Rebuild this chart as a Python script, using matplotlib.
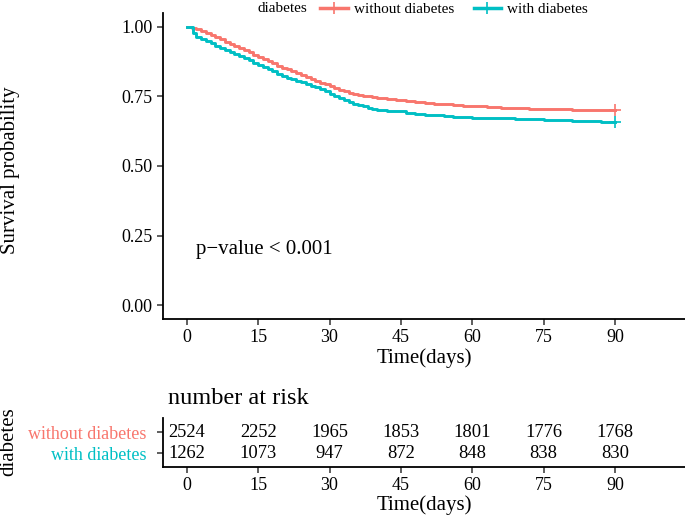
import matplotlib
matplotlib.use('Agg')
import matplotlib.pyplot as plt
from matplotlib.lines import Line2D

plt.rcParams['font.family'] = ['Liberation Serif', 'DejaVu Serif']

red = '#F8766D'
teal = '#00BFC4'

# survival curves (step, post)
t_without = [0, 1, 2, 3, 4, 5, 6, 7, 8, 9, 10, 11, 12, 13, 14, 15, 16, 17, 18, 19,
             20, 21, 22, 23, 24, 25, 26, 27, 28, 29, 30, 31, 32, 33, 34, 35, 36, 37,
             38, 39, 40, 42, 44, 46, 48, 50, 52, 54, 56, 58, 60, 63, 66, 69, 72, 75,
             78, 81, 84, 87, 90]
s_without = [1.000, 0.997, 0.992, 0.985, 0.978, 0.970, 0.963, 0.955, 0.947, 0.940,
             0.932, 0.925, 0.917, 0.909, 0.900, 0.893, 0.885, 0.877, 0.869, 0.861,
             0.854, 0.847, 0.840, 0.833, 0.826, 0.819, 0.813, 0.806, 0.800, 0.793,
             0.787, 0.780, 0.774, 0.768, 0.763, 0.759, 0.756, 0.753, 0.750, 0.748,
             0.746, 0.742, 0.737, 0.733, 0.730, 0.727, 0.724, 0.722, 0.719, 0.717,
             0.715, 0.712, 0.710, 0.708, 0.706, 0.705, 0.704, 0.703, 0.702, 0.701,
             0.700]

t_with = [0, 1.2, 2, 3, 4, 5, 6, 7, 8, 9, 10, 11, 12, 13, 14, 15, 16, 17, 18, 19,
          20, 21, 22, 23, 24, 25, 26, 27, 28, 29, 30, 31, 32, 33, 34, 35, 36, 37,
          38, 39, 40, 42, 44, 46, 48, 50, 52, 54, 56, 58, 60, 63, 66, 69, 72, 75,
          78, 81, 84, 87, 90]
s_with = [1.000, 0.977, 0.965, 0.958, 0.950, 0.942, 0.933, 0.925, 0.917, 0.909,
          0.901, 0.894, 0.887, 0.880, 0.872, 0.864, 0.856, 0.848, 0.840, 0.832,
          0.824, 0.817, 0.811, 0.806, 0.801, 0.795, 0.789, 0.783, 0.776, 0.768,
          0.760, 0.752, 0.744, 0.737, 0.730, 0.724, 0.719, 0.714, 0.710, 0.706,
          0.703, 0.699, 0.696, 0.692, 0.688, 0.685, 0.682, 0.679, 0.677, 0.675,
          0.674, 0.673, 0.672, 0.670, 0.668, 0.666, 0.664, 0.662, 0.660, 0.659,
          0.658]

groups = ['without diabetes', 'with diabetes']
risk_times = [0, 15, 30, 45, 60, 75, 90]
risk_without = [2524, 2252, 1965, 1853, 1801, 1776, 1768]
risk_with = [1262, 1073, 947, 872, 848, 838, 830]
yticks = [0.00, 0.25, 0.50, 0.75, 1.00]

fig = plt.figure(figsize=(6.85, 5.16), dpi=100)

W, H = 685., 516.
ax = fig.add_axes([163/W, 1-319/H, (685-163)/W, (319-13)/H])
ax.step(t_without, s_without, where='post', color=red, lw=2.1)
ax.step(t_with, s_with, where='post', color=teal, lw=2.1)
ax.plot([t_without[-1]], [s_without[-1]], marker='+', ms=9, mew=1.2, color=red)
ax.plot([t_with[-1]], [s_with[-1]], marker='+', ms=9, mew=1.2, color=teal)
ax.set_xlim(-5, 104.7)
ax.set_ylim(-0.05, 1.05)
ax.set_xticks(risk_times)
ax.set_yticks(yticks)
ax.set_yticklabels(['%.2f' % v for v in yticks])
ax.tick_params(labelsize=13, width=1.1, length=4, color='#333333')
for s in ['top', 'right']:
    ax.spines[s].set_visible(False)
for s in ['left', 'bottom']:
    ax.spines[s].set_linewidth(1.3)
ax.set_xlabel('Time(days)', fontsize=15, labelpad=1)
ax.text(1.9, 0.20, 'p\u2212value < 0.001', fontsize=15, va='center', ha='left')
fig.text(11/W, 1-170/H, 'Survival probability', rotation=90, fontsize=15,
         va='center', ha='center')

# legend on top
fig.text(257/W, 1-9/H, 'diabetes', fontsize=11, va='center', ha='left')
handles = [Line2D([], [], color=red, lw=2.5, marker='+', ms=9, mew=1.2),
           Line2D([], [], color=teal, lw=2.5, marker='+', ms=9, mew=1.2)]
fig.legend(handles, groups, ncol=2, frameon=False, fontsize=11,
           loc='center left', bbox_to_anchor=(320/W, 1-9/H),
           handlelength=1.8, handletextpad=0.4, columnspacing=1.3,
           borderpad=0, borderaxespad=0)

# risk table
ax2 = fig.add_axes([163/W, 1-466.7/H, (685-163)/W, (466.7-418)/H])
ax2.set_xlim(-5, 104.7)
ax2.set_ylim(-0.65, 1.67)
for t, n1, n2 in zip(risk_times, risk_without, risk_with):
    ax2.text(t, 1, str(n1), fontsize=13.3, ha='center', va='center')
    ax2.text(t, 0, str(n2), fontsize=13.3, ha='center', va='center')
ax2.set_xticks(risk_times)
ax2.set_yticks([1, 0])
ax2.set_yticklabels(groups, fontsize=13)
for lab, c in zip(ax2.get_yticklabels(), [red, teal]):
    lab.set_color(c)
ax2.tick_params(axis='x', labelsize=13, width=1.1, length=4, color='#333333')
ax2.tick_params(axis='y', width=1.1, length=4, color='#333333', pad=8)
for s in ['top', 'right']:
    ax2.spines[s].set_visible(False)
for s in ['left', 'bottom']:
    ax2.spines[s].set_linewidth(1.3)
ax2.set_xlabel('Time(days)', fontsize=15, labelpad=1)
fig.text(168/W, 1-398/H, 'number at risk', fontsize=17.5, va='center', ha='left')
fig.text(9/W, 1-441.5/H, 'diabetes', rotation=90, fontsize=15,
         va='center', ha='center')

fig.savefig('out.png', dpi=100)
